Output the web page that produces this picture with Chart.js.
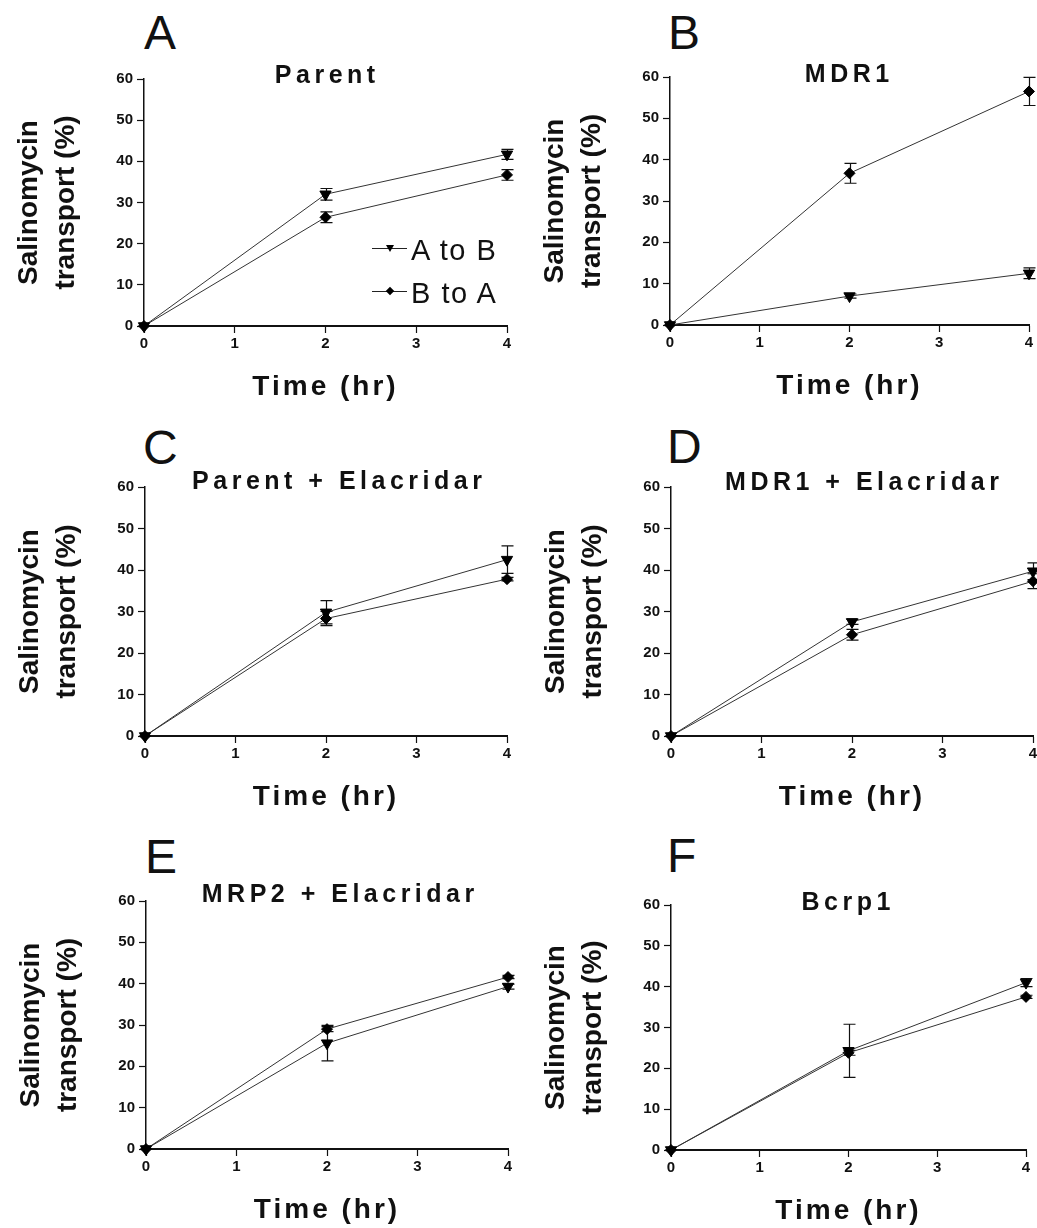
<!DOCTYPE html>
<html>
<head>
<meta charset="utf-8">
<script src="https://cdn.jsdelivr.net/npm/chart.js@4.4.1/dist/chart.umd.min.js"></script>
<style>
html, body { margin: 0; padding: 0; background: #fff; overflow: hidden; }
#fig { position: relative; width: 1037px; height: 1228px; overflow: hidden;
       font-family: 'Liberation Sans', Arial, sans-serif; color: #111; }
#fig canvas { position: absolute; }
.letter { position: absolute; font-size: 48px; line-height: 48px; }
.title { position: absolute; font-size: 25px; line-height: 25px; font-weight: bold;
         letter-spacing: 4.5px; padding-left: 4.5px; white-space: nowrap; transform: translateX(-50%); }
.lg-text { position: absolute; font-size: 29px; line-height: 29px; letter-spacing: 1.5px; white-space: nowrap; }
.lg-line { position: absolute; width: 35px; height: 0; border-top: 1px solid #222; }
.lg-tri { position: absolute; width: 0; height: 0; border-left: 4.5px solid transparent;
          border-right: 4.5px solid transparent; border-top: 7px solid #000; }
.lg-dia { position: absolute; width: 6px; height: 6px; background: #000; transform: rotate(45deg); }
</style>
</head>
<body>
<div id="fig"></div>
<script>
// data
const times = [0, 2, 4];
const xTicks = [0, 1, 2, 3, 4];
const yTicks = [0, 10, 20, 30, 40, 50, 60];
const seriesNames = ["A to B", "B to A"];
const panelLetters = ["A", "B", "C", "D", "E", "F"];
const panelTitles = ["Parent", "MDR1", "Parent + Elacridar", "MDR1 + Elacridar", "MRP2 + Elacridar", "Bcrp1"];

const aToB = [
    [0, 32.0, 41.7],
    [0, 7.0, 12.5],
    [0, 29.8, 42.5],
    [0, 27.5, 39.7],
    [0, 25.6, 39.3],
    [0, 24.3, 41.0]
];
const aToBErr = [
    [0, 1.4, 1.2],
    [0, 0.5, 1.3],
    [0, 2.8, 3.3],
    [0, 0.6, 2.0],
    [0, 4.3, 0.6],
    [0, 6.5, 1.0]
];
const bToA = [
    [0, 26.4, 36.7],
    [0, 36.7, 56.5],
    [0, 28.3, 37.8],
    [0, 24.4, 37.3],
    [0, 29.0, 41.6],
    [0, 23.8, 37.5]
];
const bToAErr = [
    [0, 1.3, 1.3],
    [0, 2.4, 3.4],
    [0, 1.7, 0.4],
    [0, 1.3, 1.8],
    [0, 0.6, 0.4],
    [0, 0.6, 0.4]
];

// layout: plot areas [left, top, right, bottom] in page pixels
const areas = [
    [144, 79, 507, 326],
    [670, 77, 1029, 325],
    [145, 487, 507, 736],
    [671, 487, 1033, 736],
    [146, 901, 508, 1149],
    [671, 905, 1026, 1150]
];
const letterPos = [[144, 9], [668, 9], [143, 424], [667, 423], [145, 833], [667, 832]];
const titlePos = [[325, 62], [847, 61], [337, 468], [862, 469], [338, 881], [846, 889]];

const Y_W = 144, X_H = 78, PAD_T = 8, PAD_R = 10;
const fig = document.getElementById("fig");
const FONT = "'Liberation Sans', Arial, sans-serif";
Chart.defaults.font.family = FONT;
Chart.defaults.color = "#111";

const errorBars = {
    id: "errorBars",
    beforeDatasetsDraw(chart) {
        const {ctx, scales: {x, y}} = chart;
        ctx.save();
        ctx.strokeStyle = "#111";
        ctx.lineWidth = 1.2;
        chart.data.datasets.forEach(ds => {
            ds.data.forEach((p, k) => {
                const e = ds.errors[k];
                if (!e) return;
                const px = Math.round(x.getPixelForValue(p.x)) + 0.5;
                const top = y.getPixelForValue(p.y + e);
                const bot = y.getPixelForValue(p.y - e);
                ctx.beginPath();
                ctx.moveTo(px, top); ctx.lineTo(px, bot);
                ctx.moveTo(px - 6, top); ctx.lineTo(px + 6, top);
                ctx.moveTo(px - 6, bot); ctx.lineTo(px + 6, bot);
                ctx.stroke();
            });
        });
        ctx.restore();
    }
};

// the x title in the original is letter-spaced
const spacedXTitle = {
    id: "spacedXTitle",
    beforeDraw(chart) {
        const s = chart.scales.x;
        if (s._spaced) return;
        const orig = s.drawTitle;
        s.drawTitle = function () {
            const c = this.ctx;
            c.save();
            c.letterSpacing = "3px";
            orig.call(this);
            c.restore();
        };
        s._spaced = true;
    }
};

function addDiv(cls, text, left, top) {
    const d = document.createElement("div");
    d.className = cls;
    if (text !== null) d.textContent = text;
    d.style.left = left + "px";
    d.style.top = top + "px";
    fig.appendChild(d);
    return d;
}

areas.forEach((a, i) => {
    const [l, t, r, b] = a;
    const cv = document.createElement("canvas");
    cv.width = Y_W + (r - l) + PAD_R;
    cv.height = PAD_T + (b - t) + X_H;
    cv.style.left = (l - Y_W) + "px";
    cv.style.top = (t - PAD_T) + "px";
    fig.appendChild(cv);

    const tickFont = {size: 15, weight: "bold"};

    new Chart(cv.getContext("2d"), {
        type: "line",
        data: {
            datasets: [
                {
                    label: seriesNames[0],
                    data: times.map((x, k) => ({x: x, y: aToB[i][k]})),
                    errors: aToBErr[i],
                    borderColor: "#333",
                    borderWidth: 1,
                    pointStyle: "triangle",
                    pointRotation: 180,
                    pointRadius: 6.5,
                    pointBackgroundColor: "#000",
                    pointBorderColor: "#000",
                    pointBorderWidth: 1,
                    clip: false
                },
                {
                    label: seriesNames[1],
                    data: times.map((x, k) => ({x: x, y: bToA[i][k]})),
                    errors: bToAErr[i],
                    borderColor: "#333",
                    borderWidth: 1,
                    pointStyle: "rectRot",
                    pointRadius: 5.5,
                    pointBackgroundColor: "#000",
                    pointBorderColor: "#000",
                    pointBorderWidth: 1,
                    clip: false
                }
            ]
        },
        options: {
            responsive: false,
            animation: false,
            events: [],
            layout: {padding: {left: 0, top: PAD_T, right: PAD_R, bottom: 0}},
            plugins: {
                legend: {display: false},
                tooltip: {enabled: false}
            },
            scales: {
                x: {
                    type: "linear",
                    min: 0,
                    max: 4,
                    afterBuildTicks: s => { s.ticks = xTicks.map(v => ({value: v})); },
                    ticks: {font: tickFont, padding: 2, color: "#111"},
                    grid: {drawOnChartArea: false, tickLength: 7, tickWidth: 1.2, tickColor: "#111"},
                    border: {color: "#111", width: 2},
                    title: {
                        display: true,
                        text: "Time (hr)",
                        color: "#111",
                        font: {size: 28, weight: "bold", lineHeight: 1.2},
                        padding: {top: 0, bottom: 0}
                    },
                    afterFit: s => { s.height = X_H; s.paddingLeft = 0; s.paddingRight = 0; }
                },
                y: {
                    type: "linear",
                    min: 0,
                    max: 60,
                    afterBuildTicks: s => { s.ticks = yTicks.map(v => ({value: v})); },
                    ticks: {font: tickFont, padding: 4, color: "#111"},
                    grid: {drawOnChartArea: false, tickLength: 7, tickWidth: 1.2, tickColor: "#111"},
                    border: {color: "#111", width: 1.5},
                    title: {
                        display: true,
                        text: ["Salinomycin", "transport (%)"],
                        color: "#111",
                        font: {size: 28, weight: "bold", lineHeight: 1.32},
                        padding: {top: 10.8, bottom: 0}
                    },
                    afterFit: s => { s.width = Y_W; s.paddingTop = 0; s.paddingBottom = 0; }
                }
            }
        },
        plugins: [errorBars, spacedXTitle]
    });

    addDiv("letter", panelLetters[i], letterPos[i][0], letterPos[i][1]);
    addDiv("title", panelTitles[i], titlePos[i][0], titlePos[i][1]);
});

// legend inside panel A
addDiv("lg-line", null, 372, 248);
addDiv("lg-tri", null, 385.5, 245);
addDiv("lg-text", seriesNames[0], 411, 236);
addDiv("lg-line", null, 372, 291);
addDiv("lg-dia", null, 387, 288);
addDiv("lg-text", seriesNames[1], 411, 279);
</script>
</body>
</html>
